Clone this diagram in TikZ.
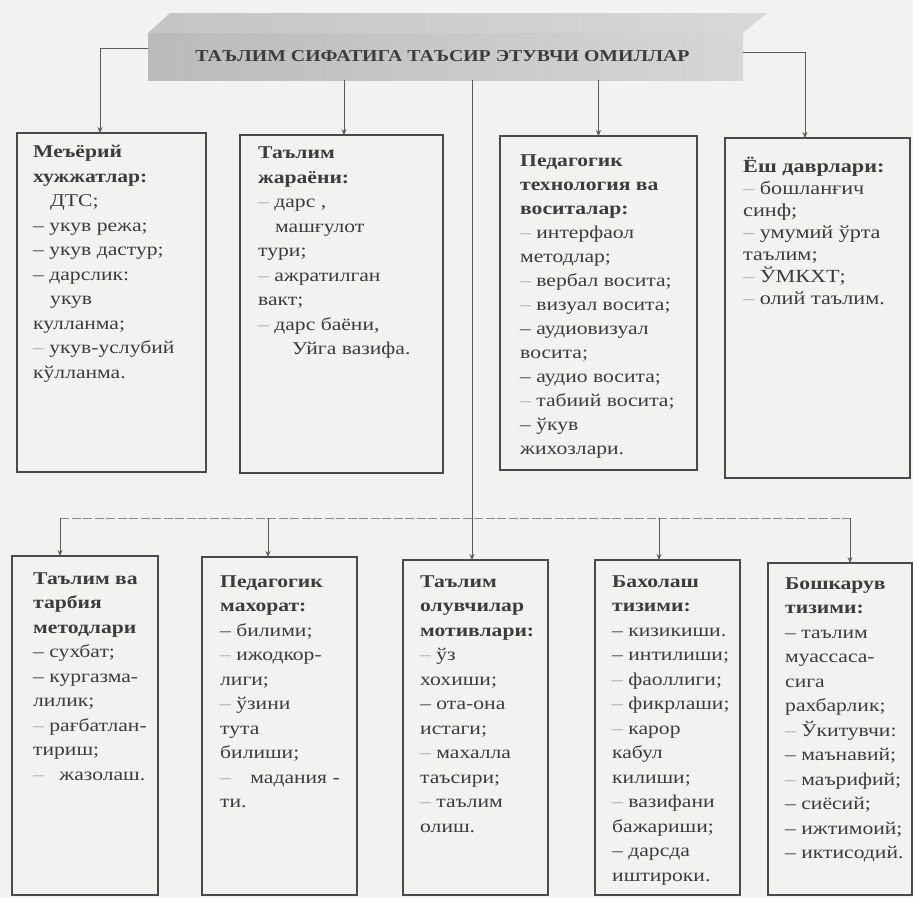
\documentclass[tikz,border=0pt]{standalone}
\usepackage{fontspec}
\usepackage{graphicx}
\setmainfont{Liberation Serif}[FakeStretch=1.2]
\usetikzlibrary{arrows.meta,calc}
\definecolor{bgc}{HTML}{F2F2F0}
\definecolor{boxc}{HTML}{4A4A4A}
\definecolor{txtc}{HTML}{3C3C3C}
\definecolor{linec}{HTML}{5A5A5A}
\newcommand{\fd}{{\color{black!35}–}}
\begin{document}
\begin{tikzpicture}[x=1pt,y=-1pt,
  boxst/.style={draw=boxc,line width=2.4pt,inner sep=0pt,outer sep=0pt},
  txt/.style={anchor=north west,align=left,inner sep=0pt,text=txtc,font={\fontsize{18}{24.5}\selectfont}},
  txtnar/.style={txt,font={\fontsize{18}{24}\selectfont}},
  txtvn/.style={txt,font={\fontsize{18.5}{22}\selectfont}},
  conn/.style={draw=linec,line width=0.8pt,-{Stealth[length=6pt,width=5pt]}},
  barst/.style={draw=linec!70,line width=0.8pt,dash pattern=on 9pt off 2.5pt},
]
\useasboundingbox (0,0) rectangle (913,898);
\fill[bgc] (0,0) rectangle (913,898);

% banner
\node[inner sep=0pt,outer sep=0pt,minimum width=595pt,minimum height=47pt,
      left color=black!27,right color=black!16] (title) at (445.5,56.5) {};
\shade[left color=black!23,right color=black!15]
  (title.north west) -- ++(22,-20) -- ++(597,0) -- (title.north east) -- cycle;
\node[text=txtc] (titletext) at ([xshift=-3pt]title.center) {\resizebox{494pt}{11pt}{\bfseries ТАЪЛИМ СИФАТИГА ТАЪСИР ЭТУВЧИ ОМИЛЛАР}};

% top row boxes
\node[boxst,minimum width=189pt,minimum height=339pt] (t1) at (111.5,302.5) {};
\node[boxst,minimum width=203pt,minimum height=338pt] (t2) at (341.5,304) {};
\node[boxst,minimum width=197pt,minimum height=334pt] (t3) at (598.5,303) {};
\node[boxst,minimum width=185pt,minimum height=340pt] (t4) at (817.5,308) {};

% bottom row boxes
\node[boxst,minimum width=146pt,minimum height=339pt] (b1) at (85,725.5) {};
\node[boxst,minimum width=155pt,minimum height=338pt] (b2) at (279.5,726) {};
\node[boxst,minimum width=145pt,minimum height=335pt] (b3) at (475.5,727.5) {};
\node[boxst,minimum width=145pt,minimum height=335pt] (b4) at (667.5,727.5) {};
\node[boxst,minimum width=144pt,minimum height=332pt] (b5) at (840,729) {};

% texts top row
\node[txt] (t1txt) at (33,145) {\textbf{Меъёрий}\\
\textbf{хужжатлар:}\\
\hspace*{17pt}ДТС;\\
– укув режа;\\
– укув дастур;\\
– дарслик:\\
\hspace*{17pt}укув\\
кулланма;\\
\fd{} укув-услубий\\
кўлланма.};

\node[txt] (t2txt) at (258,147) {\textbf{Таълим}\\
\textbf{жараёни:}\\
\fd{} дарс ,\\
\hspace*{17pt}машғулот\\
тури;\\
\fd{} ажратилган\\
вакт;\\
\fd{} дарс баёни,\\
\hspace*{34pt}Уйга вазифа.};

\node[txtnar] (t3txt) at (520,155) {\textbf{Педагогик}\\
\textbf{технология ва}\\
\textbf{воситалар:}\\
\fd{} интерфаол\\
методлар;\\
\fd{} вербал восита;\\
\fd{} визуал восита;\\
– аудиовизуал\\
восита;\\
– аудио восита;\\
\fd{} табиий восита;\\
– ўкув\\
жихозлари.};

\node[txtvn] (t4txt) at (743,157) {\textbf{Ёш даврлари:}\\
\fd{} бошланғич\\
синф;\\
\fd{} умумий ўрта\\
таълим;\\
\fd{} ЎМКХТ;\\
\fd{} олий таълим.};

% texts bottom row
\node[txt] (b1txt) at (33,572) {\textbf{Таълим ва}\\
\textbf{тарбия}\\
\textbf{методлари}\\
– сухбат;\\
– кургазма-\\
лилик;\\
\fd{} рағбатлан-\\
тириш;\\
\fd{}\hspace*{10pt} жазолаш.};

\node[txt] (b2txt) at (220,575) {\textbf{Педагогик}\\
\textbf{махорат:}\\
– билими;\\
\fd{} ижодкор-\\
лиги;\\
\fd{} ўзини\\
тута\\
билиши;\\
\fd{}\hspace*{14pt} мадания -\\
ти.};

\node[txt] (b3txt) at (420,575) {\textbf{Таълим}\\
\textbf{олувчилар}\\
\textbf{мотивлари:}\\
\fd{} ўз\\
хохиши;\\
– ота-она\\
истаги;\\
\fd{} махалла\\
таъсири;\\
\fd{} таълим\\
олиш.};

\node[txt] (b4txt) at (612,575) {\textbf{Бахолаш}\\
\textbf{тизими:}\\
– кизикиши.\\
– интилиши;\\
\fd{} фаоллиги;\\
\fd{} фикрлаши;\\
\fd{} карор\\
кабул\\
килиши;\\
\fd{} вазифани\\
бажариши;\\
– дарсда\\
иштироки.};

\node[txt] (b5txt) at (785,577) {\textbf{Бошкарув}\\
\textbf{тизими:}\\
– таълим\\
муассаса-\\
сига\\
рахбарлик;\\
\fd{} Ўкитувчи:\\
– маънавий;\\
\fd{} маърифий;\\
– сиёсий;\\
– ижтимоий;\\
– иктисодий.};

% connectors from banner
\draw[conn] ([yshift=8pt]title.west) -| ([xshift=-11.5pt]t1.north);
\draw[conn] ($(t2.north |- title.south)+(2.5,0)$) -- ([xshift=2.5pt]t2.north);
\draw[conn] (t3.north |- title.south) -- (t3.north);
\draw[conn] ([yshift=4pt]title.east) -| ([xshift=-12.5pt]t4.north);
\draw[conn] ($(b3.north |- title.south)+(-3.5,0)$) -- ([xshift=-3.5pt]b3.north);

% distribution bar
\coordinate (barl) at (60,518);
\coordinate (barr) at (850,518);
\coordinate (a1) at ([xshift=-25pt]b1.north);
\coordinate (a2) at ([xshift=-11.5pt]b2.north);
\coordinate (a4) at ([xshift=-8.5pt]b4.north);
\coordinate (a5) at ([xshift=10pt]b5.north);
\draw[barst] (barl) -- (barr);
\draw[conn] (a1 |- barl) -- (a1);
\draw[conn] (a2 |- barl) -- (a2);
\draw[conn] (a4 |- barl) -- (a4);
\draw[conn] (a5 |- barl) -- (a5);
\end{tikzpicture}
\end{document}
